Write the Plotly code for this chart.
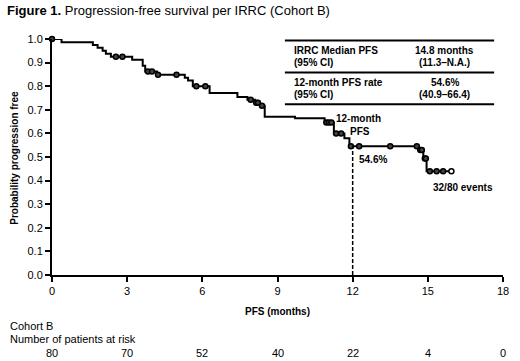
import numpy as np
import plotly.graph_objects as go

# Kaplan-Meier step curve (time in months, survival probability)
step_times = [0, 0.38, 1.63, 1.82, 2.02, 2.15, 2.35, 3.2, 3.62, 3.72, 4.19, 5.3, 5.43, 5.62,
              6.29, 7.4, 7.8, 8.1, 8.3, 8.49, 9.7, 10.88, 11.25, 11.67, 11.87, 14.62, 14.82, 14.95]
step_surv = [1.0, 0.986, 0.975, 0.963, 0.95, 0.937, 0.925, 0.912, 0.887, 0.862, 0.848, 0.836, 0.824, 0.80,
             0.771, 0.754, 0.743, 0.73, 0.717, 0.671, 0.664, 0.646, 0.60, 0.579, 0.546, 0.53, 0.494, 0.44]
end_time = 15.94

# Censored observations
censor_times = [0, 2.55, 2.81, 3.83, 3.99, 4.23, 4.97, 5.76, 6.12, 7.93, 8.15, 8.22, 8.38,
                10.95, 11.05, 11.15, 11.34, 11.54, 11.93, 12.26, 13.5, 14.56, 14.7, 14.76,
                14.88, 14.92, 15.08, 15.35, 15.61, 15.94]

# Milestone
milestone_t = 12
milestone_s = 0.546

# Number at risk
risk_times = [0, 3, 6, 9, 12, 15, 18]
at_risk = [80, 70, 52, 40, 22, 4, 0]

x_ticks = [0, 3, 6, 9, 12, 15, 18]
y_ticks = [round(0.1 * i, 1) for i in range(11)]

st = np.array(step_times)
sv = np.array(step_surv)
ct = np.array(censor_times)
cs = sv[np.searchsorted(st, ct, side="right") - 1]

FONT = "Liberation Sans, Arial, sans-serif"

fig = go.Figure()
fig.add_trace(go.Scatter(
    x=list(step_times) + [end_time], y=list(step_surv) + [step_surv[-1]],
    mode="lines", line=dict(color="black", width=2, shape="hv"),
    hoverinfo="skip", showlegend=False, cliponaxis=False))
fill = ["#444444"] * (len(censor_times) - 1) + ["white"]
fig.add_trace(go.Scatter(
    x=ct, y=cs, mode="markers",
    marker=dict(symbol="circle", size=5, color=fill, line=dict(color="black", width=1.5)),
    showlegend=False, cliponaxis=False))

fig.add_shape(type="line", xref="x", yref="y", x0=milestone_t, x1=milestone_t, y0=0, y1=milestone_s,
              line=dict(color="black", width=1.5, dash="4px,2px"))

# Plot area geometry in pixels
L, R, T, B = 52, 509, 38.5, 275
W, H = R - L, B - T


def px(x):
    return (x - L) / W


def py(y):
    return (B - y) / H


ann = []


def add(text, x, y, size=10, xanchor="left", yanchor="middle", bold=False, angle=0):
    ann.append(dict(text=f"<b>{text}</b>" if bold else text, x=x, y=y, xref="paper", yref="paper",
                    xanchor=xanchor, yanchor=yanchor, showarrow=False, textangle=angle,
                    font=dict(family=FONT, size=size, color="black")))


add("<b>Figure 1.</b> Progression-free survival per IRRC (Cohort B)", px(4), py(10), size=13)
add("Probability progression free", px(14), py(157), size=10, xanchor="center", bold=True, angle=-90)
add("PFS (months)", px(281), py(312), size=10, xanchor="center", bold=True)

# Stats table
for yl in [40, 72, 104]:
    fig.add_shape(type="line", xref="paper", yref="paper", x0=px(288), x1=px(500), y0=py(yl), y1=py(yl),
                  line=dict(color="black", width=2))
add("IRRC Median PFS", px(295), py(50.5), bold=True)
add("(95% CI)", px(295), py(62.5), bold=True)
add("14.8 months", px(450), py(50.5), xanchor="center", bold=True)
add("(11.3–N.A.)", px(450), py(62.5), xanchor="center", bold=True)
add("12-month PFS rate", px(295), py(82), bold=True)
add("(95% CI)", px(295), py(94), bold=True)
add("54.6%", px(450), py(82), xanchor="center", bold=True)
add("(40.9–66.4)", px(450), py(94), xanchor="center", bold=True)

add("12-month", px(363), py(118.5), xanchor="center", bold=True)
add("PFS", px(364), py(131.5), xanchor="center", bold=True)
add("54.6%", px(361), py(159.5), bold=True)
add("32/80 events", px(436), py(187.5), bold=True)

add("Cohort B", px(7), py(326), size=11)
add("Number of patients at risk", px(7), py(339.5), size=11)
for t, n in zip(risk_times, at_risk):
    ann.append(dict(text=str(n), x=t, y=py(353.5), xref="x", yref="paper", xanchor="center",
                    yanchor="middle", showarrow=False, font=dict(family=FONT, size=11, color="black")))

fig.update_layout(
    width=520, height=361,
    margin=dict(l=L, r=520 - R, t=T, b=361 - B),
    paper_bgcolor="white", plot_bgcolor="white",
    annotations=ann,
    xaxis=dict(range=[0, 18], tickvals=x_ticks, showline=True, linecolor="black", linewidth=2,
               ticks="outside", ticklen=5, tickwidth=2, tickcolor="black", showgrid=False, zeroline=False,
               tickfont=dict(family=FONT, size=11, color="black")),
    yaxis=dict(range=[0, 1], tickvals=y_ticks, tickformat=".1f", showline=True, linecolor="black",
               linewidth=2, ticks="outside", ticklen=5, tickwidth=2, tickcolor="black", showgrid=False,
               zeroline=False, tickfont=dict(family=FONT, size=11, color="black")),
    font=dict(family=FONT),
)

fig.write_html("out.html", config={"displayModeBar": False},
               post_script="document.body.style.margin='0';document.body.style.overflow='hidden';")
